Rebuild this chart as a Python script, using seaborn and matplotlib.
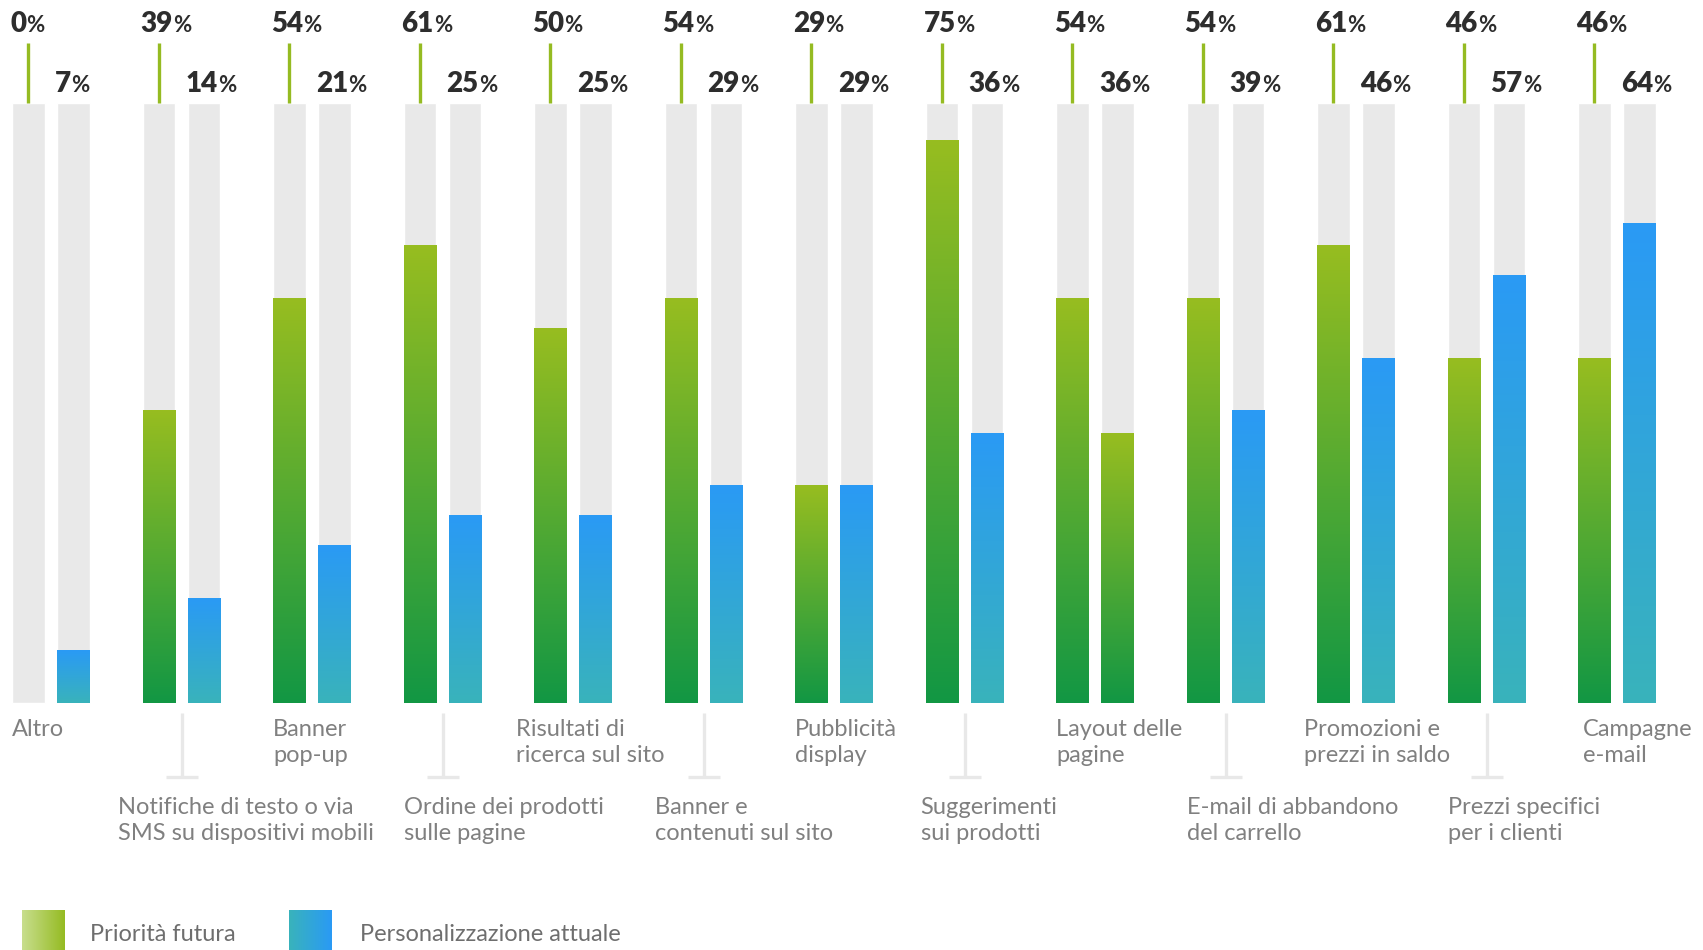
import numpy as np
import pandas as pd
import matplotlib.pyplot as plt
import seaborn as sns
from matplotlib.colors import LinearSegmentedColormap

# dati
categorie = ['Altro', 'Notifiche di testo o via\nSMS su dispositivi mobili', 'Banner\npop-up',
             'Ordine dei prodotti\nsulle pagine', 'Risultati di\nricerca sul sito', 'Banner e\ncontenuti sul sito',
             'Pubblicità\ndisplay', 'Suggerimenti\nsui prodotti', 'Layout delle\npagine',
             'E-mail di abbandono\ndel carrello', 'Promozioni e\nprezzi in saldo', 'Prezzi specifici\nper i clienti',
             'Campagne\ne-mail']
futura = [0, 39, 54, 61, 50, 54, 29, 75, 54, 54, 61, 46, 46]
attuale = [7, 14, 21, 25, 25, 29, 29, 36, 36, 39, 46, 57, 64]
serie = ['Priorità futura', 'Personalizzazione attuale']
scala_max = 80
# nell'originale la barra "attuale" di questa categoria è verde
attuale_in_verde = ['Layout delle\npagine']

# stile
verde = ['#129744', '#97bd20']      # basso -> alto
blu = ['#39b3bb', '#2a9af5']
grigio = '#e9e9e9'
# spostamento orizzontale (px) delle etichette di categoria
spost_etichetta = [0, -25, 0, 0, -18, -10, 0, -5, 0, 0, -13, 0, 5]

sns.set_style('white')
plt.rcParams['font.family'] = ['Lato', 'DejaVu Sans']

fig = plt.figure(figsize=(17.03, 9.5), dpi=100)
ax = fig.add_axes([0, 0, 1, 1])

# conversione pixel -> dati (gruppo 0 centrato a x=51px, passo 130.5px, base a y=703px, 7.5px per punto)
def px_x(px):
    return (px - 51) / 130.5

def px_y(py):
    return (703 - py) / 7.5

df = pd.DataFrame({'categoria': categorie * 2,
                   'serie': [serie[0]] * len(categorie) + [serie[1]] * len(categorie),
                   'valore': futura + attuale})
sfondo = df.assign(valore=scala_max)

sns.barplot(data=sfondo, x='categoria', y='valore', hue='serie', order=categorie, hue_order=serie,
            palette=[grigio, grigio], saturation=1, width=0.69, gap=0.27, legend=False, ax=ax)
n_sfondo = len(ax.patches)
sns.barplot(data=df, x='categoria', y='valore', hue='serie', order=categorie, hue_order=serie,
            palette=[verde[1], blu[1]], saturation=1, width=0.69, gap=0.27, legend=False, ax=ax)

cmap_verde = LinearSegmentedColormap.from_list('verde', verde)
cmap_blu = LinearSegmentedColormap.from_list('blu', blu)
grad_v = np.linspace(0, 1, 256)[:, None]

sinistra = {}
for k, p in enumerate(ax.patches):
    x0, w, h = p.get_x(), p.get_width(), p.get_height()
    i = int(round(x0 + w / 2))
    lato = 0 if x0 + w / 2 < i else 1
    sinistra[(i, lato)] = x0
    if k < n_sfondo:
        continue
    p.set_visible(False)
    if h <= 0:
        continue
    cmap = cmap_verde if (lato == 0 or categorie[i] in attuale_in_verde) else cmap_blu
    ax.imshow(grad_v, extent=(x0, x0 + w, 0, h), origin='lower', cmap=cmap, aspect='auto',
              interpolation='bilinear', zorder=3)

larg_barra = ax.patches[0].get_width()

# etichette percentuali e linea verde
for i in range(len(categorie)):
    for lato, (val, y_base) in enumerate([(futura[i], px_y(32)), (attuale[i], px_y(92))]):
        x = sinistra[(i, lato)] - 2 / 130.5
        t = ax.text(x, y_base, f'{val}', fontsize=20, fontweight='heavy', color='#2d2d2d',
                    ha='left', va='baseline')
        ax.annotate('%', xy=(1, y_base), xycoords=(t, 'data'), xytext=(0, 0), textcoords='offset points',
                    fontsize=16, fontweight='bold', color='#2d2d2d', ha='left', va='baseline')
    xc = sinistra[(i, 0)] + larg_barra / 2
    ax.plot([xc, xc], [scala_max, px_y(43)], color='#95bb22', lw=2.4, solid_capstyle='butt')

# etichette di categoria
for i, nome in enumerate(categorie):
    x = sinistra[(i, 0)] + spost_etichetta[i] / 130.5
    if i % 2 == 0:
        ax.text(x, px_y(719), nome, fontsize=17, color='#808080', ha='left', va='top', linespacing=1.28)
    else:
        ax.text(x, px_y(797), nome, fontsize=17, color='#808080', ha='left', va='top', linespacing=1.28)
        ax.plot([i, i], [px_y(713), px_y(777)], color='#e8e8e8', lw=2.4, solid_capstyle='butt')
        ax.plot([i - 16 / 130.5, i + 16 / 130.5], [px_y(777), px_y(777)], color='#e8e8e8', lw=2.4,
                solid_capstyle='butt')

# legenda
grad_h = np.linspace(0, 1, 256)[None, :]
legenda = [(serie[0], ['#c8de8e', '#95bb22'], 22, 90), (serie[1], blu, 289, 360)]
for nome, colori, x_quad, x_testo in legenda:
    cm = LinearSegmentedColormap.from_list(nome, colori)
    ax.imshow(grad_h, extent=(px_x(x_quad), px_x(x_quad + 43), px_y(950), px_y(910)), cmap=cm,
              aspect='auto', interpolation='bilinear', zorder=3)
    ax.text(px_x(x_testo), px_y(941), nome, fontsize=17, color='#6e6e6e', ha='left', va='baseline')

ax.set_xlim(px_x(0), px_x(1703))
ax.set_ylim(px_y(950), px_y(0))
ax.axis('off')

fig.savefig('out.png', dpi=100)
